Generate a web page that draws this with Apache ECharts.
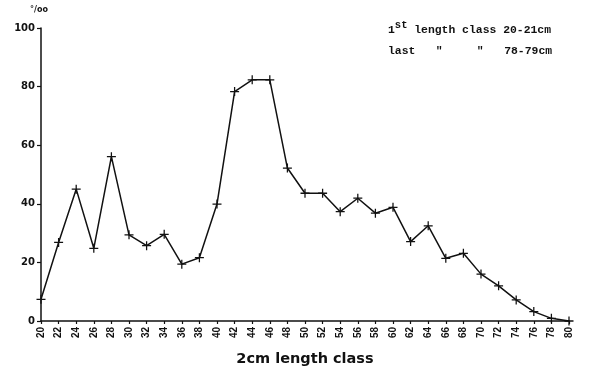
<!DOCTYPE html>
<html>
<head>
<meta charset="utf-8">
<script src="https://cdn.jsdelivr.net/npm/echarts@6/dist/echarts.min.js"></script>
<style>html,body{margin:0;padding:0;background:#fff}#c{width:600px;height:374px}</style>
</head>
<body>
<div id="c"></div>
<script>
const lengthClasses = [20,22,24,26,28,30,32,34,36,38,40,42,44,46,48,50,52,54,56,58,60,62,64,66,68,70,72,74,76,78,80];
const perMille = [7.4,26.8,45.0,24.8,56.1,29.4,25.7,29.6,19.4,21.6,39.9,78.3,82.3,82.3,52.2,43.6,43.6,37.3,41.9,36.8,38.8,27.1,32.5,21.4,23.1,16.0,12.0,7.2,3.2,0.9,0];
const yTicks = [0,20,40,60,80,100];
const xName = '2cm length class';
const yUnit = '°/oo';
const noteLine1 = ['1','st',' length class 20-21cm'];
const noteLine2 = 'last   "     "   78-79cm';

const chart = echarts.init(document.getElementById('c'));
const plus = 'path://M4.3,0H5.7V4.3H10V5.7H5.7V10H4.3V5.7H0V4.3H4.3Z';
chart.setOption({
  animation: false,
  backgroundColor: '#fff',
  grid: {left: 41, right: 31, top: 28, bottom: 53},
  xAxis: {
    type: 'value', min: 20, max: 80, interval: 2,
    name: xName, nameLocation: 'middle', nameGap: 31,
    nameTextStyle: {color: '#111', fontFamily: 'DejaVu Sans', fontWeight: 'bold', fontSize: 14.5},
    axisLine: {lineStyle: {color: '#111', width: 1.5}},
    axisTick: {show: true, length: 3, lineStyle: {color: '#111', width: 1.2}},
    axisLabel: {rotate: 90, color: '#111', fontFamily: 'Liberation Sans', fontWeight: 'bold', fontSize: 10, margin: 6,
      formatter: v => lengthClasses.includes(v) ? String(v) : ''},
    splitLine: {show: false}
  },
  yAxis: {
    type: 'value', min: 0, max: 100, interval: 20,
    axisLine: {show: true, lineStyle: {color: '#111', width: 1.5}},
    axisTick: {show: true, length: 4, lineStyle: {color: '#111', width: 1.2}},
    axisLabel: {color: '#111', fontFamily: 'DejaVu Sans', fontWeight: 'bold', fontSize: 10, margin: 6,
      formatter: v => yTicks.includes(v) ? String(v) : ''},
    splitLine: {show: false}
  },
  graphic: [
    {type: 'text', left: 30, top: 6, style: {text: yUnit, font: 'bold 8px "DejaVu Sans"', fill: '#111'}},
    {type: 'text', left: 388, top: 20, style: {
      text: '{a|' + noteLine1[0] + '}{s|' + noteLine1[1] + '}{a|' + noteLine1[2] + '}',
      rich: {
        a: {fontFamily: 'Liberation Mono', fontWeight: 'bold', fontSize: 11.4, fill: '#111', verticalAlign: 'bottom', lineHeight: 16},
        s: {fontFamily: 'Liberation Mono', fontWeight: 'bold', fontSize: 10.5, fill: '#111', verticalAlign: 'top', padding: [0,0,7,0], lineHeight: 16}
      }
    }},
    {type: 'text', left: 388, top: 46, style: {text: noteLine2, font: 'bold 11.4px "Liberation Mono"', fill: '#111'}}
  ],
  series: [{
    type: 'line',
    data: lengthClasses.map((x, i) => [x, perMille[i]]),
    symbol: plus, symbolSize: 9,
    itemStyle: {color: '#111'},
    lineStyle: {color: '#111', width: 1.5}
  }]
});
</script>
</body>
</html>
